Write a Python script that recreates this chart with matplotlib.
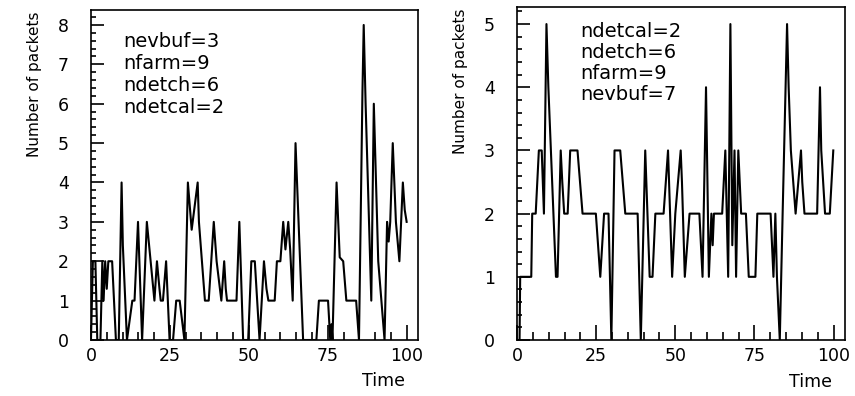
import numpy as np
import matplotlib
matplotlib.use('Agg')
import matplotlib.pyplot as plt
from matplotlib.ticker import MultipleLocator

# left run: nevbuf=3
left_t = [0, 0.6, 1.4, 2.0, 3.0, 3.6, 4.0, 4.5, 5.0, 5.5, 6.7, 7.9, 8.8, 9.7, 10.1,
          11.4, 13.1, 13.8, 14.9, 16.2, 17.7, 20.1, 20.9, 21.7, 22.1, 22.8, 23.8,
          24.9, 26.0, 27.0, 28.1, 29.6, 30.7, 31.9, 33.8, 34.2, 36.1, 37.3, 38.9,
          39.8, 41.3, 42.2, 42.7, 43.1, 46.1, 47.0, 48.2, 49.8, 50.8, 51.9, 53.4,
          54.8, 55.6, 56.2, 58.2, 58.9, 60.0, 60.9, 61.6, 62.5, 63.1, 63.9, 64.8,
          67.2, 71.4, 72.2, 75.1, 75.8, 76.2, 76.5, 77.8, 78.8, 79.9, 80.9, 84.0,
          84.9, 86.0, 86.4, 87.0, 88.8, 89.6, 91.0, 93.0, 93.8, 94.3, 94.8, 95.6,
          96.6, 97.7, 98.8, 99.4, 100.0]
left_n = [0, 2, 2, 0, 0, 2, 1, 2, 1.3, 2, 2, 0, 0, 4, 2.4,
          0, 1, 1, 3, 0, 3, 1, 2, 1.3, 1, 1, 2,
          0, 0, 1, 1, 0, 4, 2.8, 4, 3, 1, 1, 3,
          2, 1, 2, 1.3, 1, 1, 3, 0, 0, 2, 2, 0,
          2, 1.3, 1, 1, 2, 2, 3, 2.3, 3, 2.3, 1, 5,
          0, 0, 1, 1, 0, 0.4, 0, 4, 2.1, 2, 1, 1,
          0, 6.3, 8, 6, 1, 6, 2, 0, 3, 2.5, 3, 5,
          3, 2, 4, 3.3, 3]

# right run: nevbuf=7
right_t = [0, 0.8, 1.0, 4.5, 4.8, 5.9, 6.9, 7.8, 8.5, 9.3, 9.9, 12.3, 12.8, 13.8,
           14.3, 14.9, 16.0, 16.8, 19.1, 20.7, 24.9, 26.3, 27.5, 28.9, 29.8, 30.8,
           32.6, 34.2, 38.1, 39.1, 40.5, 41.9, 42.8, 43.7, 46.3, 47.7, 49.0, 50.0,
           51.7, 52.1, 53.0, 54.5, 57.6, 58.6, 59.7, 60.6, 61.4, 61.8, 62.2, 64.8,
           65.8, 66.7, 67.4, 68.0, 68.7, 69.2, 69.9, 70.8, 72.3, 73.2, 75.3, 75.9,
           80.1, 81.0, 81.6, 82.1, 83.0, 83.9, 85.3, 85.8, 86.5, 88.0, 89.7, 90.1,
           90.8, 94.8, 95.7, 96.1, 97.3, 98.8, 99.9]
right_n = [0, 0, 1, 1, 2, 2, 3, 3, 2, 5, 4, 1, 1, 3,
           2.5, 2, 2, 3, 3, 2, 2, 1, 2, 2, 0, 3,
           3, 2, 2, 0, 3, 1, 1, 2, 2, 3, 1, 2,
           3, 2.5, 1, 2, 2, 1, 4, 1, 2, 1.5, 2, 2,
           3, 1, 5, 1.5, 3, 1, 3, 2, 2, 1, 1, 2,
           2, 1, 2, 1, 0, 2, 5, 4, 3, 2, 3, 2.5,
           2, 2, 4, 3, 2, 2, 3]

left_params = ['nevbuf=3', 'nfarm=9', 'ndetch=6', 'ndetcal=2']
right_params = ['ndetcal=2', 'ndetch=6', 'nfarm=9', 'nevbuf=7']

plt.rcParams['font.family'] = ['DejaVu Sans']
plt.rcParams['font.size'] = 12.5

fig = plt.figure(figsize=(8.55, 3.96), dpi=100)
ax1 = fig.add_axes([0.1064, 0.1414, 0.3825, 0.8333])
ax2 = fig.add_axes([0.6047, 0.1414, 0.3836, 0.8409])


def style(ax, ymax):
    ax.set_xlim(0, 103.6)
    ax.set_ylim(0, ymax)
    ax.xaxis.set_major_locator(MultipleLocator(25))
    ax.xaxis.set_minor_locator(MultipleLocator(5))
    ax.yaxis.set_major_locator(MultipleLocator(1))
    ax.yaxis.set_minor_locator(MultipleLocator(0.2))
    ax.tick_params(axis='x', which='major', direction='in', length=11, width=1.2, pad=5,
                   labelsize=12.5)
    ax.tick_params(axis='x', which='minor', direction='in', length=6, width=1.2)
    ax.tick_params(axis='y', which='major', direction='in', length=9, width=1.2, pad=16,
                   labelsize=12.5)
    ax.tick_params(axis='y', which='minor', direction='in', length=3.6, width=1.2)
    for s in ax.spines.values():
        s.set_linewidth(1.2)
    ax.text(0.96, -0.125, 'Time', transform=ax.transAxes, ha='right', va='center', fontsize=12.5)
    ax.text(-0.172, 0.995, 'Number of packets', transform=ax.transAxes, rotation=90,
            ha='center', va='top', fontsize=11)


ax1.plot(left_t, left_n, color='black', lw=1.5)
style(ax1, 8.38)
for i, s in enumerate(left_params):
    ax1.text(0.098, 0.906 - i * 0.067, s, transform=ax1.transAxes, ha='left', va='center', fontsize=14)

ax2.plot(right_t, right_n, color='black', lw=1.5)
style(ax2, 5.27)
for i, s in enumerate(right_params):
    ax2.text(0.192, 0.925 - i * 0.063, s, transform=ax2.transAxes, ha='left', va='center', fontsize=14)

fig.savefig('out.png', dpi=100)
